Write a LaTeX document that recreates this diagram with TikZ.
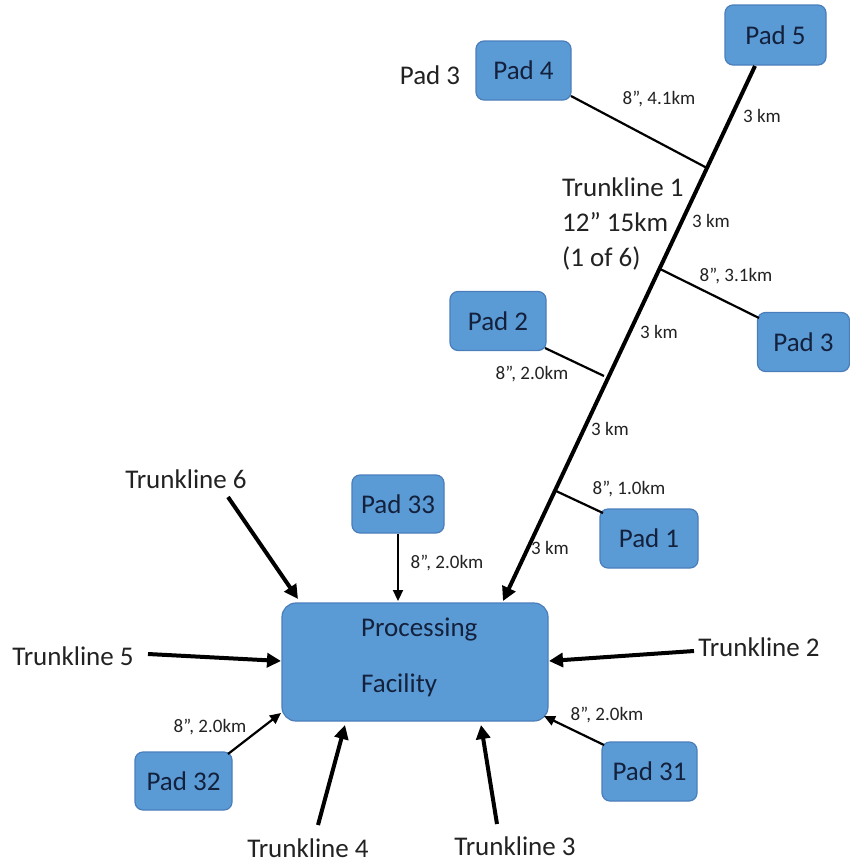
\documentclass[tikz,border=0pt]{standalone}
\usepackage{fontspec}
\setmainfont{Carlito}
\usetikzlibrary{arrows.meta}
\definecolor{padfill}{HTML}{5B9BD5}
\definecolor{paddraw}{HTML}{4A7EBB}
\definecolor{padtext}{HTML}{14213D}
\definecolor{txt}{HTML}{222222}
\tikzset{
  pad/.style={draw=paddraw, line width=1.2pt, fill=padfill, rounded corners=8pt, text=padtext,
    font=\fontsize{27}{30}\selectfont, minimum width=96pt, minimum height=59pt, inner sep=0pt},
  big/.style={text=txt, font=\fontsize{27}{30}\selectfont, inner sep=0pt},
  small/.style={text=txt, font=\fontsize{19}{22}\selectfont, inner sep=0pt},
  trunk/.style={line width=4pt, -{Triangle[length=14pt,width=14pt]}},
  branch/.style={line width=2.2pt},
  padarrow/.style={line width=2.2pt, -{Triangle[length=11pt,width=10pt]}}
}
\begin{document}
\begin{tikzpicture}[x=1pt,y=-1pt]
\useasboundingbox (0,0) rectangle (849,865);
% pads
\node[pad, minimum width=101pt, minimum height=60pt] (p5) at (775.5,35) {Pad 5};
\node[pad, minimum width=95pt] (p4) at (523.5,70.5) {Pad 4};
\node[pad] (p2) at (498,321) {Pad 2};
\node[pad, minimum width=92pt] (p3) at (803.5,342) {Pad 3};
\node[pad, minimum width=92pt, minimum height=58pt] (p33) at (398,504) {Pad 33};
\node[pad, minimum width=98pt] (p1) at (649,538.5) {Pad 1};
\node[pad, minimum width=97pt, minimum height=58pt] (p32) at (183.5,781) {Pad 32};
\node[pad, minimum width=95pt] (p31) at (649.5,771.5) {Pad 31};
\node[pad, minimum width=266pt, minimum height=118pt, rounded corners=14pt] (pf) at (415,662) {};
\node[big, anchor=west, text=padtext] (pft) at (361,630) {Processing};
\node[big, anchor=west, text=padtext] (pff) at (361,685) {Facility};
\node[big] (p3lbl) at (430,75) {Pad 3};
% junction coordinates
\coordinate (top) at (755,66);
\coordinate (j4) at (707,168);
\coordinate (j3) at (658,268);
\coordinate (j2) at (604,376);
\coordinate (j1) at (556,491);
\coordinate (tip) at (503,601);
\coordinate (b4) at (571,96);
\coordinate (b3) at (759,318);
\coordinate (b2) at (545,348);
\coordinate (b1) at (603,513);
% main trunkline
\draw[trunk] (top) -- (tip);
\draw[branch] (b4) -- (j4);
\draw[branch] (j3) -- (b3);
\draw[branch] (b2) -- (j2);
\draw[branch] (j1) -- (b1);
% trunkline 1 labels
\node[big, anchor=west] (t1a) at (562,187) {Trunkline 1};
\node[big, anchor=west] (t1b) at (562,222) {12” 15km};
\node[big, anchor=west] (t1c) at (562,258) {(1 of 6)};
\node[small] (k1) at (762,116) {3 km};
\node[small] (k2) at (711,221) {3 km};
\node[small] (k3) at (659,332) {3 km};
\node[small] (k4) at (610,429) {3 km};
\node[small] (k5) at (550,548) {3 km};
\node[small] (l4) at (659,99) {8”, 4.1km};
\node[small] (l3) at (736,276) {8”, 3.1km};
\node[small] (l2) at (532,374) {8”, 2.0km};
\node[small] (l1) at (629,489) {8”, 1.0km};
% other trunklines
\node[big] (tl6) at (186,479) {Trunkline 6};
\node[big] (tl5) at (73,656) {Trunkline 5};
\node[big] (tl2) at (759,647) {Trunkline 2};
\node[big] (tl4) at (308,848) {Trunkline 4};
\node[big] (tl3) at (515,846) {Trunkline 3};
\coordinate (s6) at (228,497);
\coordinate (e6) at (298,599);
\coordinate (s5) at (148,654);
\coordinate (e5) at (281,661);
\coordinate (s2) at (694,651);
\coordinate (e2) at (549,661);
\coordinate (s4) at (318,825);
\coordinate (e4) at (345,725);
\coordinate (s3) at (497,824);
\coordinate (e3) at (481,725);
\draw[trunk] (s6) -- (e6);
\draw[trunk] (s5) -- (e5);
\draw[trunk] (s2) -- (e2);
\draw[trunk] (s4) -- (e4);
\draw[trunk] (s3) -- (e3);
% pad arrows
\coordinate (e33) at (398,601);
\coordinate (s32) at (228,754);
\coordinate (e32) at (281,713);
\coordinate (s31) at (604,745);
\coordinate (e31) at (544,716);
\draw[padarrow] (p33.south) -- (e33);
\draw[padarrow] (s32) -- (e32);
\draw[padarrow] (s31) -- (e31);
\node[small] (l33) at (447,563) {8”, 2.0km};
\node[small] (l32) at (210,727) {8”, 2.0km};
\node[small] (l31) at (607,715) {8”, 2.0km};
\end{tikzpicture}
\end{document}
